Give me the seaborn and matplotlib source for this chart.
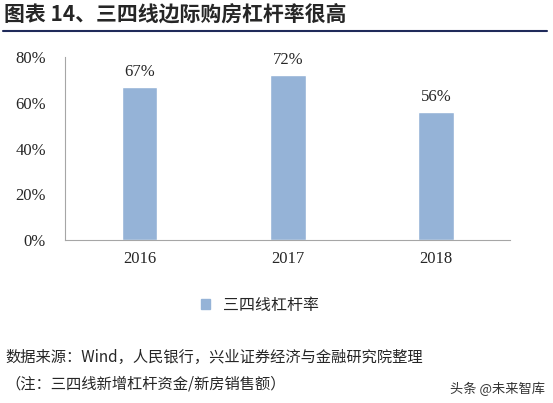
import matplotlib
matplotlib.use("Agg")
import matplotlib.pyplot as plt
import seaborn as sns
import pandas as pd
from matplotlib.lines import Line2D

years = ["2016", "2017", "2018"]
values = [0.67, 0.72, 0.56]
labels = ["67%", "72%", "56%"]
yticks = [0, 0.2, 0.4, 0.6, 0.8]
ytick_labels = ["0%", "20%", "40%", "60%", "80%"]
series = "三四线杠杆率"

sns.set_style("white")
plt.rcParams['font.family'] = ['Noto Sans CJK SC', 'DejaVu Sans']
serif = ['Liberation Serif', 'Noto Sans CJK SC']

fig = plt.figure(figsize=(5.53, 4.03), dpi=100)
ax = fig.add_axes([0.118, 0.404, 0.805, 0.455])
df = pd.DataFrame({"year": years, "v": values})
sns.barplot(data=df, x="year", y="v", color="#95B3D7", saturation=1, width=0.24, ax=ax)
ax.set_ylim(0, 0.8)
ax.set_yticks(yticks)
ax.set_yticklabels(ytick_labels, family=serif, fontsize=12)
ax.set_xticklabels(years, family=serif, fontsize=12)
ax.set_xlabel(""); ax.set_ylabel("")
for s in ["top", "right"]:
    ax.spines[s].set_visible(False)
for s in ["left", "bottom"]:
    ax.spines[s].set_color("#A6A6A6")
ax.tick_params(axis="y", length=0, pad=14)
ax.tick_params(axis="x", length=0, pad=8)
for i, (v, l) in enumerate(zip(values, labels)):
    ax.text(i, v + 0.03, l, ha="center", va="bottom", family=serif, fontsize=12)

fig.legend(handles=[plt.Rectangle((0, 0), 1, 1, color="#95B3D7")], labels=[series],
           loc="center", bbox_to_anchor=(0.47, 0.243), frameon=False, fontsize=11.5,
           handlelength=0.6, handleheight=0.6)

fig.text(0.008, 0.965, "图表 14、三四线边际购房杠杆率很高", fontsize=15, fontweight="bold", va="center")
fig.add_artist(Line2D([0.005, 0.99], [0.922, 0.922], color="#1F2A5A", lw=1.5))
fig.text(0.01, 0.112, "数据来源：Wind，人民银行，兴业证券经济与金融研究院整理", fontsize=11, va="center")
fig.text(0.01, 0.048, "（注：三四线新增杠杆资金/新房销售额）", fontsize=11, va="center")
fig.text(0.985, 0.035, "头条 @未来智库", fontsize=9.5, va="center", ha="right", color="#333333")
fig.savefig("out.png", dpi=100)
